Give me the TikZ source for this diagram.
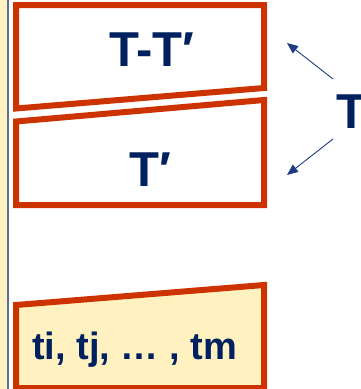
\documentclass[tikz,border=0pt]{standalone}
\usepackage{fontspec}
\setmainfont{Liberation Sans}
\usetikzlibrary{arrows.meta}
\definecolor{boxred}{HTML}{CC3300}
\definecolor{txtblue}{HTML}{002060}
\definecolor{arrblue}{HTML}{1F3A80}
\definecolor{paleyel}{HTML}{FFF2C0}
\definecolor{stripline}{HTML}{5A6E9A}
\tikzset{
  boxline/.style={draw=boxred, line width=6pt, line join=miter},
  lbl/.style={text=txtblue, font=\bfseries\fontsize{49}{50}\selectfont, inner sep=0pt, anchor=base west},
  smalllbl/.style={text=txtblue, font=\bfseries\fontsize{38}{39}\selectfont, inner sep=0pt, anchor=base west},
  ptr/.style={draw=arrblue, line width=0.9pt, -{Triangle[length=11pt,width=9pt]}}
}
\begin{document}
\begin{tikzpicture}[x=1pt,y=-1pt]
\useasboundingbox (0,0) rectangle (361,389);
% left strip
\fill[paleyel] (0,0) rectangle (7,389);
\fill[stripline] (7,0) rectangle (9,389);
% box 1
\draw[boxline] (16,5) -- (264,5) -- (264,88) -- (16,108.5) -- cycle;
% box 2
\draw[boxline] (16,121.5) -- (264,100) -- (264,205) -- (16,205) -- cycle;
% box 3
\draw[boxline, fill=paleyel] (16,305) -- (264,285) -- (264,388) -- (16,388) -- cycle;
% texts
\node[lbl] (tt) at (109,66) {T-T′};
\node[lbl] (tp) at (129,186) {T′};
\node[smalllbl] (ts) at (32,359) {ti, tj, … , tm};
\node[lbl] (big) at (336,128) {T};
% arrows
\coordinate (a1s) at (333,79);
\coordinate (a1e) at (287,43);
\coordinate (a2s) at (333,139);
\coordinate (a2e) at (287,175);
\draw[ptr] (a1s) -- (a1e);
\draw[ptr] (a2s) -- (a2e);
\end{tikzpicture}
\end{document}
